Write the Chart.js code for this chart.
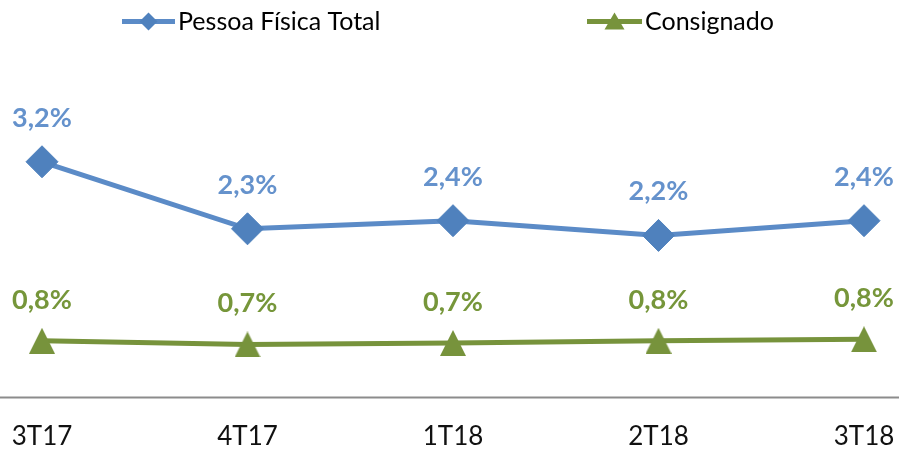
<!DOCTYPE html>
<html>
<head>
<meta charset="utf-8">
<script src="https://cdn.jsdelivr.net/npm/chart.js@4/dist/chart.umd.min.js"></script>
<style>
  html, body { margin: 0; padding: 0; background: #fff; }
  #wrap { width: 899px; height: 452px; position: relative; }
</style>
</head>
<body>
<div id="wrap"><canvas id="c" width="899" height="452"></canvas></div>
<script>
const categories = ['3T17', '4T17', '1T18', '2T18', '3T18'];
const pessoaFisicaTotal = [3.20, 2.29, 2.40, 2.20, 2.40];
const consignado = [0.77, 0.72, 0.74, 0.77, 0.79];
const seriesNames = ['Pessoa Física Total', 'Consignado'];

const BLUE_LINE = '#5B8BC7';
const BLUE_MARK = '#4F81BD';
const BLUE_LABEL = '#6592CC';
const GREEN_LINE = '#77933C';
const GREEN_MARK = '#77933C';
const GREEN_LABEL = '#76963A';

function triangleImage(w, h, color) {
  const cv = document.createElement('canvas');
  cv.width = w; cv.height = h;
  const g = cv.getContext('2d');
  g.fillStyle = color;
  g.beginPath();
  g.moveTo(w / 2, 0);
  g.lineTo(w, h);
  g.lineTo(0, h);
  g.closePath();
  g.fill();
  return cv;
}
const triBig = triangleImage(26, 26, GREEN_MARK);

const fmt = v => v.toFixed(1).replace('.', ',') + '%';

const labelsPlugin = {
  id: 'valueLabels',
  afterDatasetsDraw(chart) {
    const ctx = chart.ctx;
    ctx.save();
    ctx.font = 'bold 27px Lato, "Open Sans", sans-serif';
    ctx.textAlign = 'center';
    ctx.textBaseline = 'alphabetic';
    chart.data.datasets.forEach((ds, i) => {
      const meta = chart.getDatasetMeta(i);
      ctx.fillStyle = ds.labelColor;
      meta.data.forEach((pt, j) => {
        ctx.fillText(fmt(ds.data[j]), pt.x, pt.y - ds.labelOffset);
      });
    });
    ctx.restore();
  }
};

const axisLinePlugin = {
  id: 'axisLine',
  beforeDatasetsDraw(chart) {
    const ctx = chart.ctx;
    const y = chart.scales.y.getPixelForValue(0);
    ctx.save();
    ctx.strokeStyle = '#8C8C8C';
    ctx.lineWidth = 2;
    ctx.beginPath();
    ctx.moveTo(0, y);
    ctx.lineTo(chart.width, y);
    ctx.stroke();
    ctx.restore();
  }
};

const legendPlugin = {
  id: 'customLegend',
  afterDraw(chart) {
    const ctx = chart.ctx;
    const cy = 21.5;
    const items = [
      { x0: 122, x1: 175, text: seriesNames[0], line: BLUE_LINE, mark: BLUE_MARK, shape: 'diamond' },
      { x0: 587, x1: 642, text: seriesNames[1], line: GREEN_LINE, mark: GREEN_MARK, shape: 'triangle' }
    ];
    ctx.save();
    items.forEach(it => {
      ctx.strokeStyle = it.line;
      ctx.lineWidth = 5;
      ctx.beginPath();
      ctx.moveTo(it.x0, cy);
      ctx.lineTo(it.x1, cy);
      ctx.stroke();
      const mx = (it.x0 + it.x1) / 2;
      ctx.fillStyle = it.mark;
      ctx.beginPath();
      if (it.shape === 'diamond') {
        ctx.moveTo(mx, cy - 9);
        ctx.lineTo(mx + 9, cy);
        ctx.lineTo(mx, cy + 9);
        ctx.lineTo(mx - 9, cy);
      } else {
        ctx.moveTo(mx, cy - 9);
        ctx.lineTo(mx + 10, cy + 8);
        ctx.lineTo(mx - 10, cy + 8);
      }
      ctx.closePath();
      ctx.fill();
      ctx.fillStyle = '#000';
      ctx.font = '25px Lato, "Open Sans", sans-serif';
      ctx.textAlign = 'left';
      ctx.textBaseline = 'middle';
      ctx.fillText(it.text, it.x1 + 3, cy);
    });
    ctx.restore();
  }
};

new Chart(document.getElementById('c'), {
  type: 'line',
  data: {
    labels: categories,
    datasets: [
      {
        label: seriesNames[0],
        data: pessoaFisicaTotal,
        borderColor: BLUE_LINE,
        backgroundColor: BLUE_MARK,
        borderWidth: 5,
        pointStyle: 'rectRot',
        pointRadius: 16,
        pointBorderWidth: 1,
        pointBackgroundColor: BLUE_MARK,
        pointBorderColor: BLUE_MARK,
        pointHoverRadius: 16,
        tension: 0,
        labelColor: BLUE_LABEL,
        labelOffset: 35
      },
      {
        label: seriesNames[1],
        data: consignado,
        borderColor: GREEN_LINE,
        backgroundColor: GREEN_MARK,
        borderWidth: 5,
        pointStyle: triBig,
        pointRadius: 13,
        pointHoverRadius: 13,
        tension: 0,
        labelColor: GREEN_LABEL,
        labelOffset: 32
      }
    ]
  },
  options: {
    responsive: false,
    animation: false,
    events: [],
    clip: false,
    layout: { autoPadding: false, padding: { left: 42, right: 35, top: 66, bottom: 0 } },
    plugins: {
      legend: { display: false },
      tooltip: { enabled: false },
      title: { display: false }
    },
    scales: {
      x: {
        type: 'category',
        offset: false,
        grid: {
          display: true,
          drawOnChartArea: false,
          drawTicks: true,
          tickLength: 24,
          color: 'rgba(0,0,0,0)'
        },
        border: { display: false },
        ticks: {
          color: '#111',
          font: { family: 'Lato, "Open Sans", sans-serif', size: 26 },
          padding: 0,
          maxRotation: 0,
          autoSkip: false
        },
        afterFit(scale) { scale.height = 54.5; }
      },
      y: {
        display: false,
        min: 0,
        max: 4.5
      }
    }
  },
  plugins: [axisLinePlugin, labelsPlugin, legendPlugin]
});
</script>
</body>
</html>
